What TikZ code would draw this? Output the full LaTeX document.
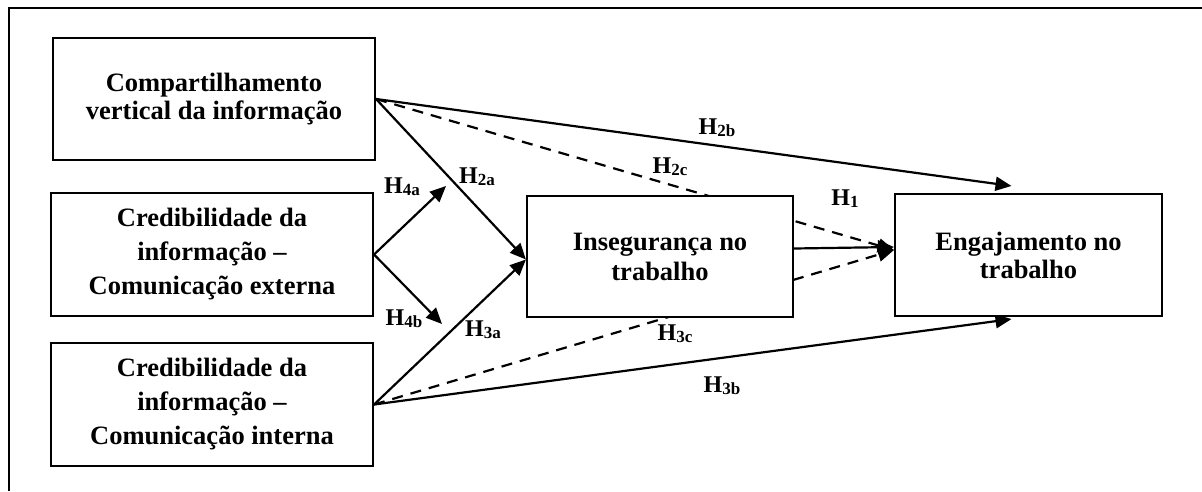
\documentclass[tikz,border=0pt]{standalone}
\usepackage{fontspec}
\setmainfont{Liberation Serif}
\usetikzlibrary{arrows.meta}
\pgfdeclarelayer{bg}
\pgfsetlayers{bg,main}
\newcommand{\hyp}[1]{H\raisebox{-2pt}{\fontsize{17}{17}\selectfont #1}}
\begin{document}
\begin{tikzpicture}[x=1pt,y=-1pt,
  box/.style={draw, line width=2.1pt, fill=white, align=center, inner sep=0pt,
    font=\fontsize{26.5}{28}\selectfont\bfseries},
  tallbox/.style={box, font=\fontsize{26.5}{34}\selectfont\bfseries},
  conn/.style={line width=2.2pt, -{Triangle[length=16pt,width=14pt]}},
  dconn/.style={conn, dash pattern=on 11pt off 8pt},
  hlabel/.style={font=\fontsize{24}{24}\selectfont\bfseries, inner sep=0pt},
  frame/.style={line width=2.2pt}]
\useasboundingbox (0,0) rectangle (1202,491);
\draw[frame] (9,491) -- (9,8) -- (1202,8);

\node[box, minimum width=322pt, minimum height=122pt] (b1) at (214,99)
  {Compartilhamento\\vertical da informação};
\node[tallbox, minimum width=322pt, minimum height=123pt] (b2) at (212,254.5)
  {Credibilidade da\\informação –\\Comunicação externa};
\node[tallbox, minimum width=322pt, minimum height=123pt] (b3) at (212,404.5)
  {Credibilidade da\\informação –\\Comunicação interna};
\node[box, minimum width=266pt, minimum height=121pt, font=\fontsize{26.5}{30}\selectfont\bfseries] (b4) at (660,256.5)
  {Insegurança no\\trabalho};
\node[box, minimum width=267pt, minimum height=122pt] (b5) at (1028.5,255)
  {Engajamento no\\trabalho};

\coordinate (m4a) at (446,186);
\coordinate (m4b) at (442,324);

\begin{pgfonlayer}{bg}
\draw[conn] (b1.east) -- ([yshift=-3pt]b4.west);
\draw[conn] (b1.east) -- ([xshift=-17pt,yshift=7pt]b5.north);
\draw[dconn] (b1.east) -- ([yshift=5pt]b5.west);
\draw[conn] ([yshift=8pt]b4.east) -- ([yshift=8pt]b5.west);
\draw[conn] (b3.east) -- ([yshift=-3pt]b4.west);
\draw[conn] (b3.east) -- ([xshift=-17pt,yshift=-2pt]b5.south);
\draw[dconn] (b3.east) -- ([yshift=5pt]b5.west);
\draw[conn] (b2.east) -- (m4a);
\draw[conn] (b2.east) -- (m4b);
\end{pgfonlayer}

\node[hlabel] (l2b) at (717,128) {\hyp{2b}};
\node[hlabel] (l2c) at (670,167) {\hyp{2c}};
\node[hlabel] (l2a) at (477,177) {\hyp{2a}};
\node[hlabel] (l4a) at (402,187) {\hyp{4a}};
\node[hlabel] (l4b) at (404,319) {\hyp{4b}};
\node[hlabel] (l3a) at (483,330) {\hyp{3a}};
\node[hlabel] (l3c) at (675,334) {\hyp{3c}};
\node[hlabel] (l3b) at (722,386) {\hyp{3b}};
\node[hlabel] (l1) at (845,199) {\hyp{1}};
\end{tikzpicture}
\end{document}
